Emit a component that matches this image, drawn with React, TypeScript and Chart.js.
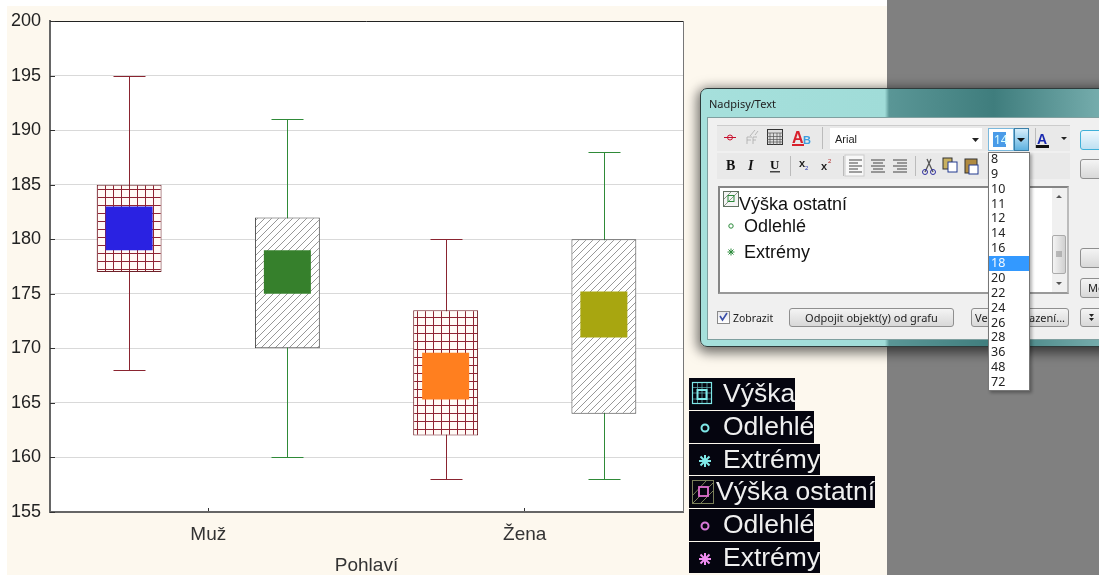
import React, { useEffect, useRef } from "react";
import { Chart, registerables } from "chart.js";

Chart.register(...registerables);

const categories = ["Muž", "Žena"];
const vyskaWhisker = [[168, 195], [158, 180]];
const vyskaBox = [[177, 185], [162, 173.5]];
const vyskaMean = [[179, 183], [165.3, 169.6]];
const ostatniWhisker = [[160, 191], [158, 188]];
const ostatniBox = [[170, 182], [164, 180]];
const ostatniMean = [[175, 179], [171, 175.2]];
const yMin = 155;
const yMax = 200;
const yStep = 5;
const xTitle = "Pohlaví";
const fontSizes = ["8", "9", "10", "11", "12", "14", "16", "18", "20", "22", "24", "26", "28", "36", "48", "72"];

const SANS = '"Liberation Sans", Arial, sans-serif';
const UI = '"Noto Sans", sans-serif';

function gridPattern() {
  const c = document.createElement("canvas");
  c.width = 8; c.height = 8;
  const x = c.getContext("2d")!;
  x.fillStyle = "#fffaf6"; x.fillRect(0, 0, 8, 8);
  x.fillStyle = "#8f2433";
  x.fillRect(1, 0, 1, 8); x.fillRect(0, 5, 8, 1);
  return x.createPattern(c, "repeat")!;
}
function hatchPattern() {
  const c = document.createElement("canvas");
  c.width = 7; c.height = 7;
  const x = c.getContext("2d")!;
  x.fillStyle = "#ffffff"; x.fillRect(0, 0, 7, 7);
  x.strokeStyle = "#8c8c8c"; x.lineWidth = 0.9;
  x.beginPath();
  x.moveTo(-1, 8); x.lineTo(8, -1);
  x.moveTo(-1, 1); x.lineTo(1, -1);
  x.moveTo(6, 8); x.lineTo(8, 6);
  x.stroke();
  return x.createPattern(c, "repeat")!;
}

const framePlugin = {
  id: "frame",
  beforeDraw(chart: any) {
    const { ctx, chartArea: a } = chart;
    ctx.save();
    ctx.fillStyle = "#ffffff";
    ctx.fillRect(a.left, a.top, a.right - a.left, a.bottom - a.top);
    ctx.restore();
  },
  afterDraw(chart: any) {
    const { ctx, chartArea: a, scales } = chart;
    ctx.save();
    ctx.lineWidth = 1;
    ctx.strokeStyle = "#222222";
    ctx.beginPath(); ctx.moveTo(a.left, a.top + 0.5); ctx.lineTo(a.right, a.top + 0.5); ctx.stroke();
    ctx.strokeStyle = "#777777";
    ctx.beginPath(); ctx.moveTo(a.right + 0.5, a.top); ctx.lineTo(a.right + 0.5, a.bottom); ctx.stroke();
    ctx.strokeStyle = "#333333";
    scales.y.ticks.forEach((_t: any, i: number) => {
      const py = Math.round(scales.y.getPixelForTick(i)) + 0.5;
      ctx.beginPath(); ctx.moveTo(a.left, py); ctx.lineTo(a.left + 5, py); ctx.stroke();
    });
    ctx.restore();
  },
};

const whiskerPlugin = {
  id: "whiskers",
  beforeDatasetsDraw(chart: any) {
    const { ctx, scales } = chart;
    chart.data.datasets.forEach((ds: any, i: number) => {
      if (!ds.whiskerColor) return;
      chart.getDatasetMeta(i).data.forEach((el: any, k: number) => {
        const x = Math.round(el.x) + 0.5;
        const lo = Math.round(scales.y.getPixelForValue(ds.data[k][0])) + 0.5;
        const hi = Math.round(scales.y.getPixelForValue(ds.data[k][1])) + 0.5;
        ctx.save();
        ctx.strokeStyle = ds.whiskerColor;
        ctx.lineWidth = 1;
        ctx.beginPath();
        ctx.moveTo(x, lo); ctx.lineTo(x, hi);
        ctx.moveTo(x - 16, lo); ctx.lineTo(x + 16, lo);
        ctx.moveTo(x - 16, hi); ctx.lineTo(x + 16, hi);
        ctx.stroke();
        ctx.restore();
      });
    });
  },
};

type BoxProps = { x: number; y: number; w: number; h: number; style?: React.CSSProperties; children?: React.ReactNode };
function Box({ x, y, w, h, style, children }: BoxProps) {
  return <div style={{ position: "absolute", left: x, top: y, width: w, height: h, boxSizing: "border-box", ...style }}>{children}</div>;
}
function Txt({ x, y, size, font = UI, color = "#222", children, style }: any) {
  return (
    <div style={{ position: "absolute", left: x, top: y, transform: "translateY(-50%)", fontFamily: font, fontSize: size, color, whiteSpace: "nowrap", lineHeight: 1, ...style }}>
      {children}
    </div>
  );
}
function Button({ x, y, w, h, label, blue, labelStyle }: any) {
  return (
    <Box x={x} y={y} w={w} h={h} style={{
      border: blue ? "1px solid #3fb0d8" : "1px solid #8f8f8f", borderRadius: 3,
      background: blue ? "linear-gradient(#eef8fd,#bfe0f2)" : "linear-gradient(#f4f4f4,#d8d8d8)",
      fontFamily: UI, fontSize: 11, color: "#222", textAlign: "center", lineHeight: `${h - 2}px`, overflow: "hidden", whiteSpace: "nowrap", ...labelStyle,
    }}>{label}</Box>
  );
}

function Icons() {
  return (
    <svg width={400} height={262} viewBox="700 88 400 262" style={{ position: "absolute", left: 700, top: 88 }}>
      {/* upper toolbar */}
      <g stroke="#c8102e" fill="none">
        <path d="M724 137.5h12" /><circle cx="730" cy="137.5" r="2.5" />
      </g>
      <g stroke="#aaa" fill="none" strokeWidth="0.8">
        <path d="M755 130l-5 6M758 131l-3 4M747 137h5M747 137v7M747 140h4M753 137v7M753 137h4M753 140h3" />
      </g>
      <rect x="767.5" y="129.5" width="15" height="15" fill="#ddd" stroke="#333" />
      <path d="M767 133h16M770 133v12M773.5 133v12M777 133v12M780 133v12M767 136.5h16M767 139.5h16M767 142h16" stroke="#555" strokeWidth="0.7" />
      <text x="792" y="143" fontFamily={SANS} fontWeight="700" fontSize="16" fill="#d8202c">A</text>
      <rect x="792" y="144" width="12" height="2" fill="#d8202c" />
      <text x="803" y="144" fontFamily={SANS} fontWeight="700" fontSize="11" fill="#3a9de0">B</text>
      <text x="1037" y="144" fontFamily={SANS} fontWeight="700" fontSize="14" fill="#1a2ab0">A</text>
      <rect x="1036" y="145" width="13" height="3" fill="#111" />
      <path d="M1061 137h6l-3 3z M972 138h7l-3.500 4z" fill="#222" />
      {/* lower toolbar */}
      <text x="726" y="170" fontFamily='"Liberation Serif",serif' fontWeight="700" fontSize="14" fill="#111">B</text>
      <text x="748" y="170" fontFamily='"Liberation Serif",serif' fontWeight="700" fontStyle="italic" fontSize="14" fill="#111">I</text>
      <text x="770" y="169" fontFamily='"Liberation Serif",serif' fontWeight="700" fontSize="13" fill="#111">U</text>
      <rect x="770" y="171" width="10" height="1.500" fill="#444" />
      <text x="799" y="167" fontFamily={SANS} fontWeight="700" fontSize="11" fill="#222">x</text>
      <text x="805" y="170" fontFamily={SANS} fontSize="6" fill="#2a3ab0">2</text>
      <text x="821" y="170" fontFamily={SANS} fontWeight="700" fontSize="11" fill="#222">x</text>
      <text x="828" y="163" fontFamily={SANS} fontSize="6" fill="#b02a2a">2</text>
      <rect x="845" y="155" width="19" height="21" fill="#f8f8f8" stroke="#ccc" />
      <path d="M849 160h13M849 163h9M849 166h13M849 169h9M849 172h13M871 160h14M873 163h10M871 166h14M873 169h10M871 172h14M893 160h14M897 163h10M893 166h14M897 169h10M893 172h14" stroke="#444" strokeWidth="1.200" />
      <path d="M925 172l6-13M933 172l-6-13" stroke="#555" strokeWidth="1.300" fill="none" />
      <circle cx="925" cy="172" r="2.500" fill="none" stroke="#3030a0" /><circle cx="933" cy="172" r="2.500" fill="none" stroke="#3030a0" />
      <rect x="943" y="158" width="9" height="11" fill="#c8b060" stroke="#333" /><rect x="948" y="162" width="9" height="10" fill="#fff" stroke="#223a90" />
      <rect x="965" y="159" width="12" height="14" fill="#b08a40" stroke="#333" /><rect x="969" y="165" width="9" height="9" fill="#fff" stroke="#223a90" />
      {/* separators */}
      <path d="M822.500 127v22M790.500 156v20M843.500 156v20M915.500 156v20M1035.500 128v20" stroke="#bbb" />
      {/* text box icons */}
      <rect x="723.500" y="191.500" width="15" height="15" fill="#f4f4f4" stroke="#5f6f5f" />
      <path d="M724 206l14-14M724 199l7-7" stroke="#8a9a8a" />
      <rect x="728" y="195.500" width="6" height="6" fill="none" stroke="#2a8a3a" />
      <circle cx="731" cy="226" r="2.200" fill="none" stroke="#2a8a3a" />
      <path d="M727.500 252h7M731 248.500v7M728.500 249.500l5 5M733.500 249.500l-5 5" stroke="#2a8a3a" />
      {/* scrollbar */}
      <path d="M1056 198h6l-3-3z M1056 282h6l-3 3z" fill="#555" />
      <path d="M1056 252h6M1056 254h6M1056 256h6" stroke="#888" />
      {/* checkbox */}
      <path d="M720 316l2.500 4 4.500-7" stroke="#3a4ea8" strokeWidth="1.600" fill="none" />
      {/* last button */}
      <path d="M1089 314h5l-2.500 3z M1089 318h5l-2.500 3z" fill="#222" />
    </svg>
  );
}

function Dialog() {
  return (
    <Box x={700} y={88} w={420} h={259} style={{
      position: "absolute", borderRadius: 7, border: "1px solid #2e3b3b",
      background: "linear-gradient(90deg,#a6e0dc 0%,#a0dcd8 44%,#5a9696 45%,#3f7d7d 70%,#7fb5b5 100%)",
      boxShadow: "0 3px 12px 3px rgba(0,0,0,.55)",
    }}>
      <Box x={6} y={28} w={420} h={223} style={{ background: "#f0f0f0", border: "1px solid #7fa0a0" }} />
      <Txt x={8} y={14} size={11}>Nadpisy/Text</Txt>
    </Box>
  );
}

function Controls() {
  return (
    <>
      <Box x={717} y={125} w={353} h={26} style={{ background: "#e9e9e9", borderTop: "1px solid #ccc" }} />
      <Box x={717} y={153} w={353} h={26} style={{ background: "#e9e9e9" }} />
      <Box x={830} y={128} w={152} h={21} style={{ background: "#fff" }} />
      <Txt x={835} y={139} size={11} font={SANS}>Arial</Txt>

      <Box x={718} y={186} w={351} h={108} style={{ background: "#fff", border: "2px solid #858585", borderBottomColor: "#999", borderRightColor: "#bbb" }} />
      <Box x={1052} y={188} w={15} h={104} style={{ background: "#f0f0f0" }} />
      <Box x={1052} y={235} w={14} h={39} style={{ background: "linear-gradient(90deg,#f4f4f4,#d0d0d0)", border: "1px solid #aaa", borderRadius: 2 }} />
      <Txt x={739} y={204} size={18} font={SANS} color="#111">Výška ostatní</Txt>
      <Txt x={744} y={226} size={18} font={SANS} color="#111">Odlehlé</Txt>
      <Txt x={744} y={252} size={18} font={SANS} color="#111">Extrémy</Txt>

      <Box x={717} y={311} w={13} h={13} style={{ background: "linear-gradient(#e6e6ea,#fff)", border: "1px solid #8a8a8a" }} />
      <Txt x={733} y={318} size={10.500}>Zobrazit</Txt>
      <Button x={789} y={308} w={165} h={19} label="Odpojit objekt(y) od grafu" />
      <Button x={971} y={308} w={98} h={19} label="" />
      <Txt x={975} y={317} size={11}>Ve</Txt>
      <Txt x={1029} y={317} size={11}>azení...</Txt>

      <Button x={1080} y={130} w={40} h={20} label="" blue />
      <Button x={1080} y={159} w={40} h={20} label="" />
      <Button x={1080} y={248} w={40} h={20} label="" />
      <Button x={1080} y={278} w={40} h={20} label="Mo" labelStyle={{ textAlign: "left", paddingLeft: 7 }} />
      <Button x={1080} y={308} w={40} h={19} label="" />

      <Box x={988} y={128} w={26} h={23} style={{ background: "#fff", border: "1px solid #7ab8dc" }} />
      <Box x={993} y={132} w={13} h={15} style={{ background: "#4a9be8" }} />
      <Txt x={994} y={140} size={12} color="#dff">14</Txt>
      <Box x={1014} y={128} w={15} h={23} style={{ background: "linear-gradient(#d6eefb,#5fb2e0)", border: "1px solid #3a7fa8" }} />
      <Icons />
      <Box x={1017} y={138} w={0} h={0} style={{ borderLeft: "4px solid transparent", borderRight: "4px solid transparent", borderTop: "4px solid #111" }} />
      <Box x={988} y={152} w={42} h={239} style={{ background: "#fff", border: "1px solid #777", boxShadow: "2px 2px 3px rgba(0,0,0,.3)" }} />
      {fontSizes.map((s, i) => {
        const y = 159 + (i * 223) / 15;
        return (
          <React.Fragment key={s}>
            {s === "18" && <Box x={989} y={y - 7.500} w={40} h={15} style={{ background: "#3399ff" }} />}
            <Txt x={991} y={y} size={12.500} color={s === "18" ? "#f4faff" : "#222"}>{s}</Txt>
          </React.Fragment>
        );
      })}
    </>
  );
}

function LegendIcon({ kind, color }: { kind: string; color: string }) {
  if (kind === "grid") {
    return (
      <svg width={22} height={24} style={{ position: "absolute", left: 2, top: 3 }}>
        <rect x="1.500" y="1.500" width="19" height="21" fill="none" stroke={color} strokeWidth="1.200" />
        <path d="M6.500 1v22M11 1v22M16 1v22M1 6.500h20M1 12h20M1 18h20" stroke={color} strokeWidth="0.800" opacity=".7" />
        <rect x="6.500" y="9" width="9" height="9" fill="none" stroke={color} strokeWidth="2" />
      </svg>
    );
  }
  if (kind === "hatch") {
    return (
      <svg width={24} height={26} style={{ position: "absolute", left: 2, top: 3 }}>
        <rect x="1.500" y="1.500" width="21" height="23" fill="none" stroke="#7a7f5a" />
        <path d="M2 16L15 2M2 24L23 3M10 24L23 11" stroke="#7a7f5a" />
        <rect x="8" y="8" width="9" height="9" fill="#05050f" stroke={color} strokeWidth="1.800" />
      </svg>
    );
  }
  if (kind === "circle") {
    return (
      <svg width={14} height={14} style={{ position: "absolute", left: 9, top: 10 }}>
        <circle cx="7" cy="7" r="3.500" fill="none" stroke={color} strokeWidth="2" />
      </svg>
    );
  }
  return (
    <svg width={14} height={14} style={{ position: "absolute", left: 9, top: 10 }}>
      <path d="M7 1v12M1 7h12M2.500 2.500l9 9M11.500 2.500l-9 9" stroke={color} strokeWidth="2" />
    </svg>
  );
}

const CYAN = "#7fe8e8";
const PINK = "#f08cf0";
const legendRows = [
  { y: 378, h: 32, w: 106, tx: 34, label: "Výška", kind: "grid", color: CYAN },
  { y: 411, h: 32, w: 125, tx: 34, label: "Odlehlé", kind: "circle", color: CYAN },
  { y: 444, h: 31, w: 131, tx: 34, label: "Extrémy", kind: "star", color: CYAN },
  { y: 476, h: 32, w: 186, tx: 27, label: "Výška ostatní", kind: "hatch", color: "#e070d0" },
  { y: 509, h: 32, w: 125, tx: 34, label: "Odlehlé", kind: "circle", color: "#d878d8" },
  { y: 542, h: 31, w: 131, tx: 34, label: "Extrémy", kind: "star", color: PINK },
];

export default function App() {
  const ref = useRef<HTMLCanvasElement>(null);
  useEffect(() => {
    document.body.style.margin = "0";
    document.documentElement.style.overflow = "hidden";
    const grid = gridPattern();
    const hatch = hatchPattern();
    const maroon = "#8a2430";
    const green = "#2f8a38";
    const chart = new Chart(ref.current!, {
      type: "bar",
      data: {
        labels: categories,
        datasets: [
          { label: "Výška průměr", stack: "a", data: vyskaMean as any, backgroundColor: ["#2a22e2", "#ff7f1f"], barPercentage: 0.297, categoryPercentage: 1 },
          { label: "Výška", stack: "a", data: vyskaBox as any, backgroundColor: grid, borderColor: "#6e2028", borderWidth: 1, borderSkipped: false, barPercentage: 0.41, categoryPercentage: 1 },
          { label: "Výška rozpětí", stack: "a", data: vyskaWhisker as any, backgroundColor: "rgba(0,0,0,0)", whiskerColor: maroon, barPercentage: 0.2, categoryPercentage: 1 },
          { label: "Výška ostatní průměr", stack: "b", data: ostatniMean as any, backgroundColor: ["#36802c", "#a8a610"], barPercentage: 0.297, categoryPercentage: 1 },
          { label: "Výška ostatní", stack: "b", data: ostatniBox as any, backgroundColor: hatch, borderColor: "#444444", borderWidth: 1, borderSkipped: false, barPercentage: 0.41, categoryPercentage: 1 },
          { label: "Výška ostatní rozpětí", stack: "b", data: ostatniWhisker as any, backgroundColor: "rgba(0,0,0,0)", whiskerColor: green, barPercentage: 0.2, categoryPercentage: 1 },
        ] as any,
      },
      options: {
        animation: false,
        responsive: false,
        devicePixelRatio: 1,
        layout: { padding: { left: 0, top: 21, right: 416, bottom: 0 } },
        plugins: { legend: { display: false }, tooltip: { enabled: false }, title: { display: false } },
        scales: {
          x: {
            grid: { drawOnChartArea: false, offset: false, tickColor: "#333", tickLength: -4, color: "#555" },
            border: { color: "#666", width: 2 },
            ticks: { font: { family: SANS, size: 19 }, color: "#333", padding: 15, maxRotation: 0 },
            title: { display: true, text: xTitle, font: { family: SANS, size: 19 }, color: "#333", padding: { top: 0, bottom: -2 } },
            afterFit(s: any) { s.height = 63; },
          },
          y: {
            min: yMin,
            max: yMax,
            stacked: false,
            grid: { color: "#d9d9d9", drawTicks: false, lineWidth: 1 },
            border: { color: "#666", width: 2 },
            ticks: { stepSize: yStep, font: { family: SANS, size: 18 }, color: "#222", padding: 9 },
            afterFit(s: any) { s.width = 50; s.paddingTop = 0; s.paddingBottom = 0; },
          },
        },
      },
      plugins: [framePlugin, whiskerPlugin],
    } as any);
    return () => chart.destroy();
  }, []);

  return (
    <div style={{ position: "relative", width: 1099, height: 575, overflow: "hidden", background: "#fff" }}>
      <Box x={7} y={6} w={880} h={569} style={{ background: "#fdf8ee" }} />
      <Box x={887} y={0} w={212} h={575} style={{ background: "#808080" }} />
      <canvas ref={ref} width={1099} height={575} style={{ position: "absolute", left: 0, top: 0, width: 1099, height: 575 }} />
      <Dialog />
      <Controls />
      {legendRows.map((r, i) => (
        <Box key={i} x={689} y={r.y} w={r.w} h={r.h} style={{ background: "#05050f" }}>
          <LegendIcon kind={r.kind} color={r.color} />
          <Txt x={r.tx} y={r.h / 2 - 1} size={26.500} font={SANS} color="#efefef">{r.label}</Txt>
        </Box>
      ))}
    </div>
  );
}
